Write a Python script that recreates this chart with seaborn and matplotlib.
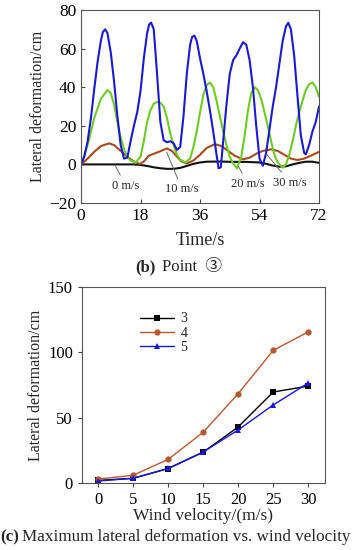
import numpy as np
import pandas as pd
import matplotlib
matplotlib.use('Agg')
import matplotlib.pyplot as plt
import seaborn as sns

# --- (b) time history at point 3 ---
t_0 = [0, 16, 18, 20, 22, 24, 26, 28, 30, 32, 34, 36, 38, 42, 46, 50, 54, 56, 58, 60, 62, 64, 66, 68, 70, 72]
v_0 = [0, 0, -0.3, -0.8, -1.5, -2, -2.3, -2.3, -1.8, -0.8, 0.3, 1, 1.4, 1.5, 1.3, 1.3, 1, 0.3, -0.6, -1.2, -1, 0, 0.8, 1.4, 1.4, 0.8]

t_10 = [0, 2, 4, 6, 8.5, 10, 12, 14, 16, 17.8, 19, 20.5, 22, 23.5, 26, 27.5, 29, 30.5, 32, 34, 36, 38, 40.5,
        42.5, 44.5, 46.5, 49, 51, 53, 55, 57.5, 59.5, 61.5, 63.5, 65.5, 67.5, 69.5, 72]
v_10 = [0, 3, 6.5, 9.5, 10.9, 10, 7, 4, 1.5, 0.2, 1.5, 4.5, 5.5, 6.5, 8.3, 7, 4, 1.5, 0.5, 2, 5, 8.5, 10.5,
        9.5, 7, 4.5, 2.6, 3.5, 5.5, 7, 7.8, 7, 5, 3, 2.3, 3, 4.5, 6.5]

t_20 = [0, 2, 4, 6, 8, 9, 10, 11, 12, 13, 14, 15, 16.5, 18, 19, 20, 21, 22, 23, 24, 25, 26, 27, 28, 29, 30,
        31.5, 33, 34, 35, 36, 37, 38, 39, 40, 41, 42, 43, 44, 45, 46, 47.2, 48.5, 49.5, 50.5, 51.5, 52.6,
        53.5, 54.5, 55.5, 56.5, 57.5, 58.5, 59.5, 61, 62, 63, 64, 65, 66, 67, 68, 69, 70, 71, 72]
v_20 = [0, 10, 24, 34, 38.5, 37, 31, 22, 14, 8, 4, 2, 1, 4, 12, 22, 28, 31.5, 32.3, 32, 30, 24, 16, 10, 5, 2.5,
        1, 3, 9, 17, 27, 36, 41, 42.5, 40, 33, 25, 17, 10, 4, 0.5, -2, 4, 15, 28, 37, 40,
        38.5, 34, 27, 20, 12, 5, 1, -1.7, 0, 5, 12, 20, 27, 33, 38.5, 41.5, 42.5, 40, 35]

t_30 = [0, 1, 2, 3, 4, 5, 6, 6.6, 7.3, 8, 9, 10, 11, 12, 13, 14, 15, 16, 17, 18, 19, 20, 20.6, 21.2, 22, 23, 24, 25,
        26, 27, 28, 29, 30, 31, 32, 33, 33.6, 34.3, 35, 36, 37, 38, 39, 40, 41, 41.6, 42.3, 43, 44, 45, 46, 47, 48,
        49, 50, 51, 52, 53, 54, 55, 56, 57, 58, 59, 60, 61, 62, 62.7, 63.5, 64.5, 65.5, 66.5, 67.5, 68, 69, 70,
        71, 72]
v_30 = [0, 4, 12, 24, 39, 53, 64, 68.5, 70, 68, 58, 43, 25, 10, 3, 3.5, 12, 20, 27, 38, 55, 68, 72.5, 73.5, 70,
        47, 22, 12.5, 11.5, 12, 11, 7.5, 9, 25, 47, 62, 66, 66.7, 64, 55, 47, 38, 28, 17, 5, -2, -1.5, 12, 31,
        47, 54, 56.5, 60, 63.3, 62, 54, 40, 20, 3, -0.7, 6, 18, 30, 40, 52, 64, 71.5, 73.4, 70, 56, 35, 15, 6,
        5.2, 10, 17, 22, 30]

# --- (c) maximum lateral deformation vs wind velocity ---
wind = [0, 5, 10, 15, 20, 25, 30]
max_p3 = [2, 3.6, 11, 23.6, 42.9, 69.6, 74.2]
max_p4 = [3, 5.9, 18.1, 38.8, 68.4, 101.5, 115.6]
max_p5 = [1.5, 3.6, 11.2, 23.7, 40.6, 59.7, 76.5]

sns.set_style('ticks')
serif = ['Liberation Serif', 'DejaVu Serif']
plt.rcParams['font.family'] = serif

fig = plt.figure(figsize=(3.62, 5.5), dpi=100)
ax1 = fig.add_axes([0.2238, 0.6309, 0.6575, 0.3509])
ax2 = fig.add_axes([0.2265, 0.1218, 0.6713, 0.3564])

hist = pd.concat([
    pd.DataFrame({'t': t_0, 'v': v_0, 'wind': '0 m/s'}),
    pd.DataFrame({'t': t_10, 'v': v_10, 'wind': '10 m/s'}),
    pd.DataFrame({'t': t_20, 'v': v_20, 'wind': '20 m/s'}),
    pd.DataFrame({'t': t_30, 'v': v_30, 'wind': '30 m/s'}),
])
pal_b = {'0 m/s': '#111111', '10 m/s': '#a84a1c', '20 m/s': '#6ccc24', '30 m/s': '#1a1ad0'}
sns.lineplot(data=hist, x='t', y='v', hue='wind', palette=pal_b, estimator=None, sort=False,
             linewidth=1.5, legend=False, ax=ax1)
ax1.set_xlim(0, 72)
ax1.set_ylim(-20, 80)
ax1.set_xticks([0, 18, 36, 54, 72])
ax1.set_yticks([-20, 0, 20, 40, 60, 80])
ax1.tick_params(direction='in', labelsize=12.5, length=3, colors='#444444', labelcolor='black')
ax1.set_xlabel('Time/s', fontsize=13, labelpad=6)
ax1.set_ylabel('Lateral deformation/cm', fontsize=11.5, labelpad=2)
for s in ax1.spines.values():
    s.set_color('#555555')
    s.set_linewidth(0.8)

notes = [('0 m/s', (10.3, -0.5), (13.6, -11)),
         ('10 m/s', (25.9, 6.4), (30.6, -13)),
         ('20 m/s', (47.6, -1), (50.5, -10)),
         ('30 m/s', (56.2, 5.2), (63.2, -9.4))]
for txt, xy, xyt in notes:
    ax1.annotate(txt, xy=xy, xytext=xyt, ha='center', va='center', fontsize=9,
                 arrowprops=dict(arrowstyle='-', color='#666666', lw=0.7, shrinkA=1, shrinkB=0))

maxdf = pd.concat([
    pd.DataFrame({'w': wind, 'd': max_p3, 'pt': '3'}),
    pd.DataFrame({'w': wind, 'd': max_p4, 'pt': '4'}),
    pd.DataFrame({'w': wind, 'd': max_p5, 'pt': '5'}),
])
pal_c = {'3': '#000000', '4': '#b8582e', '5': '#1515e0'}
sns.lineplot(data=maxdf, x='w', y='d', hue='pt', style='pt', palette=pal_c,
             markers={'3': 's', '4': 'o', '5': '^'}, dashes=False, markersize=4.5,
             linewidth=1.0, markeredgewidth=0, ax=ax2)
ax2.set_xlim(-2.3, 32.4)
ax2.set_ylim(0, 150)
ax2.set_xticks(wind)
ax2.set_yticks([0, 50, 100, 150])
ax2.tick_params(direction='out', labelsize=12, length=3, colors='#444444', labelcolor='black')
ax2.set_xlabel('Wind velocity/(m/s)', fontsize=12.5, labelpad=0)
ax2.set_ylabel('Lateral deformation/cm', fontsize=11.5, labelpad=3)
for s in ax2.spines.values():
    s.set_color('#555555')
    s.set_linewidth(0.8)
ax2.legend(title=None, frameon=False, loc='upper left', bbox_to_anchor=(0.2, 0.92),
           fontsize=10, handlelength=2.4, labelspacing=0.1, borderpad=0.2, handletextpad=0.5)

cap = ['Liberation Serif', 'Noto Sans CJK SC', 'DejaVu Sans']
fig.text(0.43, 1 - 267 / 550, '(b)', fontsize=12, fontweight='bold', ha='right', va='center', family=cap)
fig.text(0.447, 1 - 267 / 550, 'Point  ③', fontsize=12, ha='left', va='center', family=cap)
fig.text(0.0, 1 - 537 / 550, '(c)', fontsize=12.3, fontweight='bold', ha='left', va='center', family=cap)
fig.text(0.062, 1 - 537 / 550, 'Maximum lateral deformation vs. wind velocity', fontsize=12.3,
         ha='left', va='center', family=cap)

fig.savefig('out.png', dpi=100)
